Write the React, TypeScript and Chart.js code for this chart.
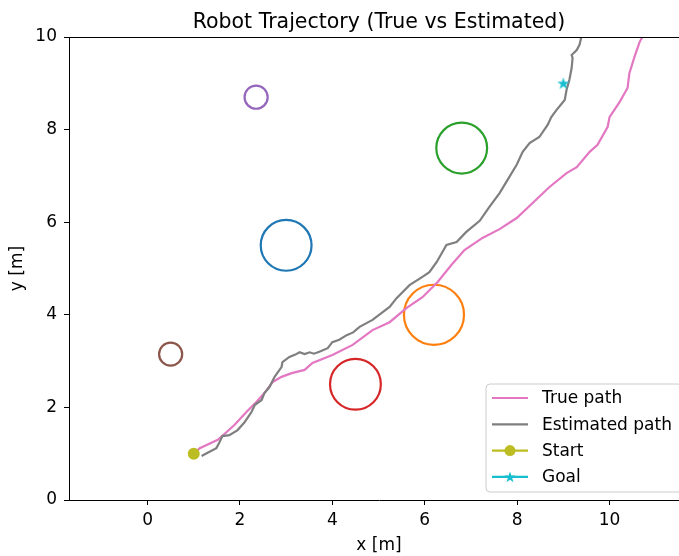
import React, { useEffect, useRef } from "react";
import { Chart, registerables } from "chart.js";

Chart.register(...registerables);

const titleText = "Robot Trajectory (True vs Estimated)";
const xLabelText = "x [m]";
const yLabelText = "y [m]";

const trueX = [1.0, 1.13, 1.52, 1.67, 1.88, 2.14, 2.36, 2.53, 2.71, 2.9, 3.12, 3.4, 3.57, 4.0, 4.44, 4.87, 5.24, 5.61, 5.95, 6.28, 6.58, 6.86, 7.25, 7.62, 7.99, 8.33, 8.7, 9.07, 9.29, 9.57, 9.74, 9.96, 10.0, 10.22, 10.39, 10.43, 10.54, 10.65, 10.71, 10.8];
const trueY = [1.0, 1.12, 1.3, 1.43, 1.62, 1.9, 2.12, 2.31, 2.55, 2.66, 2.74, 2.81, 2.96, 3.13, 3.35, 3.67, 3.84, 4.15, 4.38, 4.71, 5.08, 5.4, 5.66, 5.85, 6.09, 6.41, 6.76, 7.06, 7.19, 7.52, 7.67, 8.06, 8.27, 8.6, 8.9, 9.22, 9.57, 9.89, 10.0, 10.15];

const estX = [1.17, 1.3, 1.49, 1.56, 1.62, 1.77, 1.95, 2.1, 2.25, 2.32, 2.47, 2.53, 2.64, 2.75, 2.9, 2.92, 3.07, 3.2, 3.29, 3.4, 3.51, 3.6, 3.72, 3.9, 4.0, 4.15, 4.31, 4.45, 4.59, 4.87, 5.09, 5.24, 5.39, 5.67, 5.95, 6.1, 6.26, 6.47, 6.69, 6.9, 7.19, 7.4, 7.62, 7.79, 7.99, 8.12, 8.27, 8.48, 8.66, 8.74, 8.85, 9.03, 9.07, 9.13, 9.18, 9.2, 9.18, 9.29, 9.35, 9.39, 9.42];
const estY = [0.95, 1.02, 1.12, 1.25, 1.38, 1.4, 1.51, 1.68, 1.9, 2.05, 2.16, 2.31, 2.44, 2.66, 2.87, 2.98, 3.09, 3.14, 3.19, 3.15, 3.19, 3.16, 3.2, 3.28, 3.41, 3.46, 3.56, 3.62, 3.74, 3.89, 4.06, 4.17, 4.36, 4.64, 4.82, 4.92, 5.14, 5.51, 5.57, 5.79, 6.03, 6.33, 6.63, 6.91, 7.24, 7.52, 7.71, 7.84, 8.1, 8.27, 8.42, 8.64, 8.86, 9.07, 9.33, 9.55, 9.61, 9.72, 9.83, 10.0, 10.15];

const startX = [1.0];
const startY = [1.0];
const goalX = [9.0];
const goalY = [9.0];

const obstacleX = [3.0, 6.2, 6.8, 4.5, 2.35, 0.5];
const obstacleY = [5.5, 4.0, 7.6, 2.5, 8.7, 3.15];
const obstacleR = [0.55, 0.65, 0.55, 0.55, 0.25, 0.25];
const obstacleColors = ["#1f77b4", "#ff7f0e", "#2ca02c", "#d62728", "#9467bd", "#8c564b"];

const xTicks = [0, 2, 4, 6, 8, 10];
const yTicks = [0, 2, 4, 6, 8, 10];

const legendLabels = ["True path", "Estimated path", "Start", "Goal"];
const legendColors = ["#e377c2", "#7f7f7f", "#bcbd22", "#17becf"];
const legendMarkers = ["none", "none", "circle", "star"];

const FONT = '"DejaVu Sans", sans-serif';
const TICK_SIZE = 17;
const TITLE_SIZE = 20.5;

function drawStar(g: CanvasRenderingContext2D, cx: number, cy: number, R: number, color: string) {
  const r = R * 0.382;
  g.beginPath();
  for (let i = 0; i < 10; i++) {
    const a = -Math.PI / 2 + (i * Math.PI) / 5;
    const rr = i % 2 === 0 ? R : r;
    g.lineTo(cx + rr * Math.cos(a), cy + rr * Math.sin(a));
  }
  g.closePath();
  g.fillStyle = color;
  g.fill();
}

function makeStarCanvas(R: number, color: string) {
  const size = 14;
  const c = document.createElement("canvas");
  c.width = size;
  c.height = size;
  const g = c.getContext("2d")!;
  drawStar(g, size / 2, size / 2 + 0.5, R, color);
  return c;
}

const decorPlugin = {
  id: "decor",
  afterDraw(chart: any) {
    const { ctx, chartArea: a } = chart;
    ctx.save();
    ctx.strokeStyle = "#000";
    ctx.lineWidth = 1;
    ctx.beginPath();
    ctx.moveTo(a.left, a.top + 0.5);
    ctx.lineTo(a.right, a.top + 0.5);
    ctx.moveTo(a.right - 0.5, a.top);
    ctx.lineTo(a.right - 0.5, a.bottom);
    ctx.stroke();

    const cx = (a.left + a.right) / 2;
    ctx.fillStyle = "#000";
    ctx.textAlign = "center";
    ctx.font = `${TITLE_SIZE}px ${FONT}`;
    ctx.textBaseline = "alphabetic";
    ctx.fillText(titleText, cx, a.top - 9);

    ctx.font = `${TICK_SIZE}px ${FONT}`;
    ctx.textBaseline = "middle";
    ctx.fillText(xLabelText, cx, a.bottom + 46);
    ctx.save();
    ctx.translate(18, (a.top + a.bottom) / 2);
    ctx.rotate(-Math.PI / 2);
    ctx.fillText(yLabelText, 0, 0);
    ctx.restore();

    // legend
    const right = a.right - 7;
    const bottom = a.bottom - 8;
    const w = 196;
    const h = 108;
    const left = right - w;
    const top = bottom - h;
    const rad = 4;
    ctx.beginPath();
    ctx.moveTo(left + rad, top);
    ctx.lineTo(right - rad, top);
    ctx.arcTo(right, top, right, top + rad, rad);
    ctx.lineTo(right, bottom - rad);
    ctx.arcTo(right, bottom, right - rad, bottom, rad);
    ctx.lineTo(left + rad, bottom);
    ctx.arcTo(left, bottom, left, bottom - rad, rad);
    ctx.lineTo(left, top + rad);
    ctx.arcTo(left, top, left + rad, top, rad);
    ctx.closePath();
    ctx.fillStyle = "rgba(255,255,255,0.8)";
    ctx.fill();
    ctx.strokeStyle = "#cccccc";
    ctx.lineWidth = 1;
    ctx.stroke();

    ctx.textAlign = "left";
    ctx.textBaseline = "middle";
    ctx.font = `${TICK_SIZE}px ${FONT}`;
    for (let i = 0; i < legendLabels.length; i++) {
      const y = top + 14 + i * 26.3;
      const x0 = left + 6;
      const x1 = left + 42;
      ctx.strokeStyle = legendColors[i];
      ctx.lineWidth = 2.2;
      ctx.beginPath();
      ctx.moveTo(x0, y);
      ctx.lineTo(x1, y);
      ctx.stroke();
      const mx = (x0 + x1) / 2;
      if (legendMarkers[i] === "circle") {
        ctx.beginPath();
        ctx.arc(mx, y, 5.5, 0, Math.PI * 2);
        ctx.fillStyle = legendColors[i];
        ctx.fill();
      } else if (legendMarkers[i] === "star") {
        drawStar(ctx, mx, y + 0.5, 6, legendColors[i]);
      }
      ctx.fillStyle = "#000";
      ctx.fillText(legendLabels[i], left + 56, y + 1);
    }
    ctx.restore();
  },
};

export default function App() {
  const ref = useRef<HTMLCanvasElement | null>(null);

  useEffect(() => {
    const canvas = ref.current;
    if (!canvas) return;
    const starCanvas = makeStarCanvas(6.5, "#17becf");

    const obstacleData = obstacleX.map((x, i) => ({ x, y: obstacleY[i], r: obstacleR[i] }));

    const tickFont = { family: FONT, size: TICK_SIZE };

    const chart = new Chart(canvas, {
      type: "scatter",
      data: {
        datasets: [
          {
            label: "Goal",
            data: goalX.map((x, i) => ({ x, y: goalY[i] })),
            pointStyle: starCanvas as any,
            pointRadius: 7,
            order: 0,
          } as any,
          {
            label: "Start",
            data: startX.map((x, i) => ({ x, y: startY[i] })),
            pointStyle: "circle",
            pointRadius: 6,
            backgroundColor: "#bcbd22",
            borderColor: "#bcbd22",
            borderWidth: 0,
            order: 1,
          },
          {
            label: "Estimated path",
            data: estX.map((x, i) => ({ x, y: estY[i] })),
            showLine: true,
            borderColor: "#7f7f7f",
            borderWidth: 2.2,
            pointRadius: 0,
            tension: 0,
            order: 2,
          },
          {
            label: "True path",
            data: trueX.map((x, i) => ({ x, y: trueY[i] })),
            showLine: true,
            borderColor: "#e377c2",
            borderWidth: 2.2,
            pointRadius: 0,
            tension: 0,
            order: 3,
          },
          {
            label: "Obstacles",
            data: obstacleData as any,
            pointStyle: "circle",
            backgroundColor: "rgba(0,0,0,0)",
            borderColor: obstacleColors,
            borderWidth: 2.2,
            pointRadius: (c: any) => {
              const s = c.chart.scales.x;
              if (!s || !c.raw || !isFinite(s.getPixelForValue(0))) return 0;
              return Math.abs(s.getPixelForValue(c.raw.r) - s.getPixelForValue(0));
            },
            order: 4,
          } as any,
        ],
      },
      options: {
        responsive: false,
        animation: false,
        devicePixelRatio: 1,
        events: [],
        layout: { padding: { top: 37, right: 11, bottom: 0, left: 0 }, autoPadding: false },
        plugins: {
          legend: { display: false },
          title: { display: false },
          tooltip: { enabled: false },
        },
        scales: {
          x: {
            type: "linear",
            position: "bottom",
            min: -1.7,
            max: 11.72,
            afterBuildTicks: (s: any) => {
              s.ticks = xTicks.map((v) => ({ value: v }));
            },
            afterFit: (s: any) => {
              s.height = 56;
            },
            ticks: {
              color: "#000",
              font: tickFont,
              padding: 5,
              maxRotation: 0,
              autoSkip: false,
            },
            grid: {
              drawOnChartArea: false,
              drawTicks: true,
              tickLength: 5,
              tickColor: "#000",
              tickWidth: 1,
            },
            border: { display: true, color: "#000", width: 1 },
          },
          y: {
            type: "linear",
            position: "left",
            min: 0,
            max: 10,
            afterBuildTicks: (s: any) => {
              s.ticks = yTicks.map((v) => ({ value: v }));
            },
            afterFit: (s: any) => {
              s.width = 69;
            },
            ticks: {
              color: "#000",
              font: tickFont,
              padding: 7,
              autoSkip: false,
            },
            grid: {
              drawOnChartArea: false,
              drawTicks: true,
              tickLength: 5,
              tickColor: "#000",
              tickWidth: 1,
            },
            border: { display: true, color: "#000", width: 1 },
          },
        },
      },
      plugins: [decorPlugin],
    });

    return () => {
      chart.destroy();
    };
  }, []);

  return (
    <div
      style={{
        position: "absolute",
        left: 0,
        top: 0,
        width: 679,
        height: 556,
        overflow: "hidden",
        background: "#fff",
      }}
    >
      <canvas ref={ref} width={700} height={556} style={{ display: "block" }} />
    </div>
  );
}
